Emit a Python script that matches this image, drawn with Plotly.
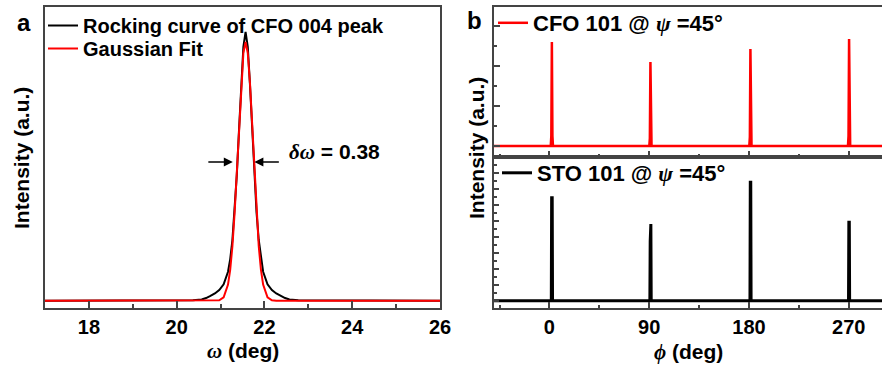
import plotly.graph_objects as go

# ---------------- data ----------------
# panel a: rocking curve (normalised intensity) and Gaussian fit
omega = [17.0, 20.37, 20.57, 20.67, 20.77, 20.87, 20.97, 21.07, 21.17, 21.22, 21.27,
         21.32, 21.37, 21.42, 21.47, 21.52, 21.57, 21.62, 21.67, 21.72, 21.77, 21.82,
         21.87, 21.92, 21.97, 22.07, 22.17, 22.27, 22.37, 22.47, 22.57, 22.77, 26.0]
rocking = [0.0, 0.002, 0.005, 0.010, 0.018, 0.027, 0.040, 0.061, 0.108, 0.155, 0.226,
           0.329, 0.467, 0.633, 0.805, 0.945, 1.0, 0.945, 0.805, 0.633, 0.467, 0.329,
           0.226, 0.155, 0.108, 0.061, 0.040, 0.027, 0.018, 0.010, 0.005, 0.002, 0.0]
gauss = [0.0, 0.0, 0.0, 0.0, 0.0, 0.0, 0.002, 0.013, 0.060, 0.116, 0.203,
         0.327, 0.482, 0.653, 0.810, 0.922, 0.963, 0.922, 0.810, 0.653, 0.482, 0.327,
         0.203, 0.116, 0.060, 0.013, 0.002, 0.0, 0.0, 0.0, 0.0, 0.0, 0.0]

# panel b: phi scans
cfo_phi = [-50, 1.2, 1.7, 2.2, 2.7, 3.2, 90.1, 90.6, 91.1, 91.6, 92.1,
           180.3, 180.8, 181.3, 181.8, 182.3, 269.3, 269.8, 270.3, 270.8, 271.3, 300]
cfo_int = [0, 0, 0.5, 5.2, 0.5, 0, 0, 0.4, 4.2, 0.4, 0,
           0, 0.45, 4.85, 0.45, 0, 0, 0.5, 5.35, 0.5, 0, 0]
sto_phi = [-50, 1.7, 2.0, 2.5, 2.8, 90.6, 90.9, 91.5, 91.8,
           180.9, 181.2, 181.6, 181.9, 269.8, 270.1, 270.5, 270.8, 300]
sto_int = [0, 0, 6.44, 6.44, 0, 0, 3.69, 4.79, 0,
           0, 7.40, 7.40, 0, 0, 4.90, 4.90, 0, 0]

omega_ticks = [18, 20, 22, 24, 26]
phi_ticks = [0, 90, 180, 270]

# ---------------- figure ----------------
W, H = 882, 367
SANS = "Liberation Sans, Arial, sans-serif"
SERIF = "Liberation Serif, Times New Roman, serif"
AX = "#444444"

def px(x):
    return x / W

def py(y):
    return 1 - y / H

fig = go.Figure()
fig.add_trace(go.Scatter(x=omega, y=rocking, mode="lines", name="Rocking curve of CFO 004 peak",
                         line=dict(color="black", width=2), xaxis="x", yaxis="y", legend="legend"))
fig.add_trace(go.Scatter(x=omega, y=gauss, mode="lines", name="Gaussian Fit",
                         line=dict(color="red", width=2), xaxis="x", yaxis="y", legend="legend4"))
psi = f"<span style='font-family:{SERIF}'><i>ψ</i></span>"
fig.add_trace(go.Scatter(x=cfo_phi, y=cfo_int, mode="lines", name=f"CFO 101 @ {psi} =45°",
                         line=dict(color="red", width=2.5), xaxis="x2", yaxis="y2", legend="legend2"))
fig.add_trace(go.Scatter(x=sto_phi, y=sto_int, mode="lines", name=f"STO 101 @ {psi} =45°",
                         line=dict(color="black", width=3), xaxis="x3", yaxis="y3", legend="legend3"))

tickfont = dict(family=SANS, size=20, color="black", weight="bold")
common = dict(showgrid=False, zeroline=False, showline=True, linecolor=AX, linewidth=1.5,
              ticks="inside", tickcolor=AX, tickwidth=1.5)

dom_a = [px(45), px(440)]
dom_b = [px(494), 1.0]
dy_all = [py(308), py(7)]
dy_mid = py(157)

leg_common = dict(xanchor="left", yanchor="top", bgcolor="rgba(0,0,0,0)", borderwidth=0, itemwidth=30)
fig.update_layout(
    width=W, height=H, autosize=False, margin=dict(l=0, r=0, t=0, b=0, autoexpand=False),
    paper_bgcolor="white", plot_bgcolor="white",
    font=dict(family=SANS, color="black"),
    xaxis=dict(domain=dom_a, anchor="y", range=[17, 26], tickmode="array", tickvals=omega_ticks,
               ticklen=7, minor=dict(dtick=1, tick0=17, ticklen=4, ticks="inside", tickcolor=AX, tickwidth=1.5),
               mirror=True, tickfont=tickfont, ticklabelstandoff=0, **common),
    yaxis=dict(domain=dy_all, anchor="x", range=[-0.027, 1.093], showticklabels=False,
               mirror=True, **{k: v for k, v in common.items() if k != "ticks"}, ticks=""),
    xaxis2=dict(domain=dom_b, anchor="y2", range=[-50, 300], tickmode="array", tickvals=phi_ticks,
                ticklen=6, minor=dict(dtick=45, tick0=0, ticklen=3, ticks="inside", tickcolor=AX, tickwidth=1.5),
                mirror=True, showticklabels=False, **common),
    yaxis2=dict(domain=[dy_mid, py(7)], anchor="x2", range=[-0.55, 6.95], tickmode="linear", tick0=0, dtick=2,
                ticklen=6, minor=dict(dtick=1, tick0=0, ticklen=3, ticks="inside", tickcolor=AX, tickwidth=1.5),
                showticklabels=False, **common),
    xaxis3=dict(domain=dom_b, anchor="y3", range=[-50, 300], tickmode="array", tickvals=phi_ticks,
                ticklen=6, minor=dict(dtick=45, tick0=0, ticklen=3, ticks="inside", tickcolor=AX, tickwidth=1.5),
                mirror=True, tickfont=tickfont, ticklabelstandoff=0, **common),
    yaxis3=dict(domain=[py(308), dy_mid], anchor="x3", range=[-0.456, 8.98], tickmode="linear", tick0=0, dtick=1,
                ticklen=5, minor=dict(dtick=0.5, tick0=0, ticklen=3, ticks="inside", tickcolor=AX, tickwidth=1.5),
                showticklabels=False, **common),
    legend=dict(x=px(43), y=py(6), font=dict(family=SANS, size=20, color="black", weight="bold"), **leg_common),
    legend4=dict(x=px(43), y=py(29), font=dict(family=SANS, size=20, color="black", weight="bold"), **leg_common),
    legend2=dict(x=px(493), y=py(2), font=dict(family=SANS, size=22, color="black", weight="bold"), **leg_common),
    legend3=dict(x=px(497), y=py(152), font=dict(family=SANS, size=22, color="black", weight="bold"), **leg_common),
    showlegend=True,
)

title_font = dict(family=SANS, size=21, color="black", weight="bold")
ann = []
ann.append(dict(xref="paper", yref="paper", x=px(242.5), y=py(351), text=f"<span style='font-family:{SERIF}'><i>ω</i></span> (deg)",
                showarrow=False, font=title_font, xanchor="center", yanchor="middle"))
ann.append(dict(xref="paper", yref="paper", x=px(688), y=py(352), text=f"<span style='font-family:{SERIF}'><i>ϕ</i></span> (deg)",
                showarrow=False, font=title_font, xanchor="center", yanchor="middle"))
ann.append(dict(xref="paper", yref="paper", x=px(22), y=py(158), text="Intensity (a.u.)", textangle=-90,
                showarrow=False, font=title_font, xanchor="center", yanchor="middle"))
ann.append(dict(xref="paper", yref="paper", x=px(477), y=py(148), text="Intensity (a.u.)", textangle=-90,
                showarrow=False, font=title_font, xanchor="center", yanchor="middle"))
ann.append(dict(xref="paper", yref="paper", x=px(24), y=py(22), text="a", showarrow=False,
                font=dict(family=SANS, size=24, color="black", weight="bold"), xanchor="center", yanchor="middle"))
ann.append(dict(xref="paper", yref="paper", x=px(474), y=py(20), text="b", showarrow=False,
                font=dict(family=SANS, size=24, color="black", weight="bold"), xanchor="center", yanchor="middle"))
ann.append(dict(xref="paper", yref="paper", x=px(287), y=py(152),
                text=f"<span style='font-family:{SERIF}'><i>δω</i></span> = 0.38",
                showarrow=False, font=dict(family=SANS, size=21, color="black", weight="bold"),
                xanchor="left", yanchor="middle"))
# FWHM arrows
ann.append(dict(xref="x", yref="y", x=21.28, y=0.516, ax=-26, ay=0, text="", showarrow=True,
                arrowhead=2, arrowsize=1.2, arrowwidth=1.5, arrowcolor="black"))
ann.append(dict(xref="x", yref="y", x=21.77, y=0.516, ax=26, ay=0, text="", showarrow=True,
                arrowhead=2, arrowsize=1.2, arrowwidth=1.5, arrowcolor="black"))
fig.update_layout(annotations=ann)

fig.write_html("out.html", config={"responsive": False},
               post_script="document.body.style.margin='0';document.body.style.overflow='hidden';")
